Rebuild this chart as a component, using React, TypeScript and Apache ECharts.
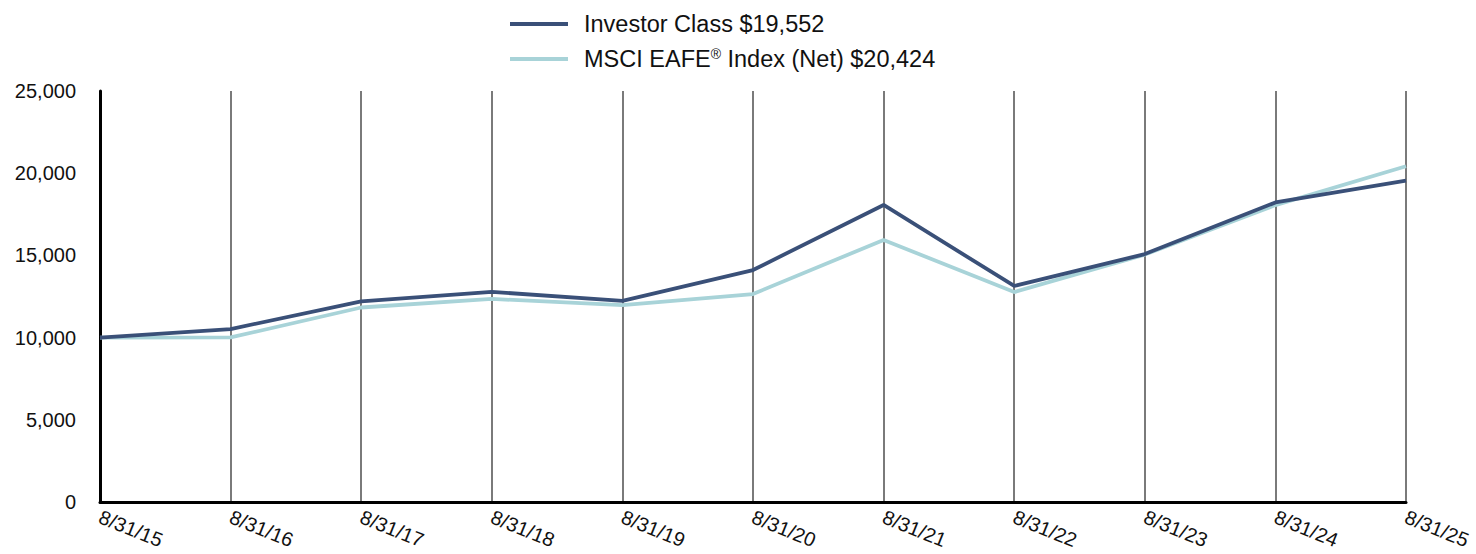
import React, { useEffect, useRef } from "react";
import * as echarts from "echarts";

const categories = ["8/31/15", "8/31/16", "8/31/17", "8/31/18", "8/31/19", "8/31/20", "8/31/21", "8/31/22", "8/31/23", "8/31/24", "8/31/25"];
const investorClass = [10000, 10520, 12200, 12780, 12230, 14110, 18070, 13140, 15080, 18220, 19552];
const msciEafe = [10000, 10010, 11830, 12350, 11980, 12650, 15940, 12770, 15050, 18060, 20424];
const seriesNames = ["Investor Class $19,552", "MSCI EAFE® Index (Net) $20,424"];
const yTicks = { min: 0, max: 25000, interval: 5000 };

export default function App() {
  const ref = useRef<HTMLDivElement>(null);
  useEffect(() => {
    document.body.style.margin = "0";
    const chart = echarts.init(ref.current!, null, { renderer: "svg" });
    const font = "Liberation Sans, Arial, sans-serif";
    chart.setOption({
      animation: false,
      textStyle: { fontFamily: font },
      legend: {
        orient: "vertical",
        left: 505,
        top: 7,
        icon: "rect",
        itemWidth: 58,
        itemHeight: 4,
        itemGap: 11,
        data: seriesNames,
        textStyle: {
          fontSize: 23.5,
          color: "#111",
          fontFamily: font,
          padding: [0, 0, 0, 11],
          rich: {
            sup: { fontSize: 14, verticalAlign: "top", padding: [0, 0, 9, 0], fontFamily: font, color: "#111" },
            t: { fontSize: 23.5, fontFamily: font, color: "#111" },
          },
        },
        formatter: (name: string) => {
          if (name.indexOf("®") >= 0) {
            const parts = name.split("®");
            return `{t|${parts[0]}}{sup|®}{t|${parts[1]}}`;
          }
          return `{t|${name}}`;
        },
      },
      grid: { left: 100, right: 70, top: 91, bottom: 52, containLabel: false },
      xAxis: {
        type: "category",
        data: categories,
        boundaryGap: false,
        axisLine: { lineStyle: { color: "#000", width: 3 } },
        axisTick: { show: false },
        axisLabel: { rotate: -22, fontSize: 20, color: "#111", margin: 14, fontFamily: font, interval: 0 },
        splitLine: { show: true, lineStyle: { color: "#7a7a7a", width: 2 } },
      },
      yAxis: {
        type: "value",
        min: yTicks.min,
        max: yTicks.max,
        interval: yTicks.interval,
        axisLine: { show: true, lineStyle: { color: "#000", width: 3 } },
        axisTick: { show: false },
        splitLine: { show: false },
        axisLabel: {
          fontSize: 20,
          color: "#111",
          margin: 24,
          fontFamily: font,
          formatter: (v: number) => v.toLocaleString("en-US"),
        },
      },
      series: [
        {
          name: seriesNames[1],
          type: "line",
          data: msciEafe,
          symbol: "none",
          lineStyle: { color: "#a8d3d8", width: 3.8 },
          itemStyle: { color: "#a8d3d8" },
          z: 2,
        },
        {
          name: seriesNames[0],
          type: "line",
          data: investorClass,
          symbol: "none",
          lineStyle: { color: "#3a5078", width: 3.8 },
          itemStyle: { color: "#3a5078" },
          z: 3,
        },
      ],
    });
    return () => chart.dispose();
  }, []);
  return <div ref={ref} style={{ width: 1476, height: 554 }} />;
}
